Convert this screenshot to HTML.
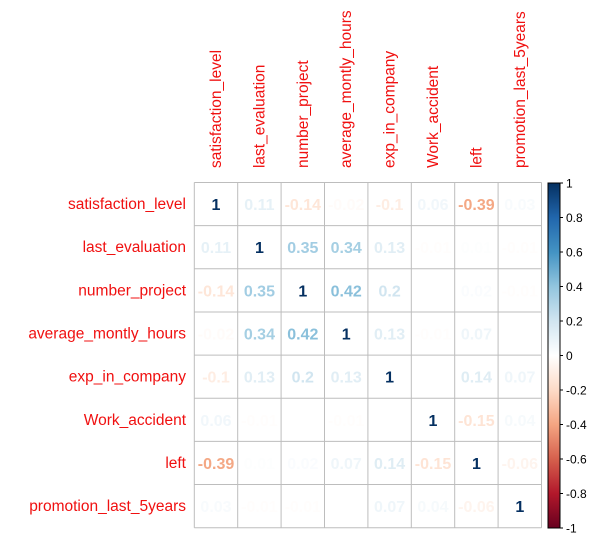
<!DOCTYPE html>
<html><head><meta charset="utf-8"><style>
html,body{margin:0;padding:0;background:#fff;}
svg{display:block;font-family:"Liberation Sans",Arial,sans-serif;}
</style></head><body>
<svg id="c" width="601" height="541"></svg>
<script>
const labels=["satisfaction_level","last_evaluation","number_project","average_montly_hours","exp_in_company","Work_accident","left","promotion_last_5years"];
const corr=[
[1,0.11,-0.14,-0.02,-0.1,0.06,-0.39,0.03],
[0.11,1,0.35,0.34,0.13,-0.01,0.01,-0.01],
[-0.14,0.35,1,0.42,0.2,0,0.02,-0.01],
[-0.02,0.34,0.42,1,0.13,-0.01,0.07,0],
[-0.1,0.13,0.2,0.13,1,0,0.14,0.07],
[0.06,-0.01,0,-0.01,0,1,-0.15,0.04],
[-0.39,0.01,0.02,0.07,0.14,-0.15,1,-0.06],
[0.03,-0.01,-0.01,0,0.07,0.04,-0.06,1]];
const legendTicks=[1,0.8,0.6,0.4,0.2,0,-0.2,-0.4,-0.6,-0.8,-1];
const stops=["#67001F","#B2182B","#D6604D","#F4A582","#FDDBC7","#FFFFFF","#D1E5F0","#92C5DE","#4393C3","#2166AC","#053061"];
function hx(h){return [1,3,5].map(i=>parseInt(h.substr(i,2),16));}
function col(v){let t=(v+1)/2*10;let i=Math.min(9,Math.floor(t));let f=t-i;let a=hx(stops[i]),b=hx(stops[i+1]);return "rgb("+a.map((x,k)=>Math.round(x+(b[k]-x)*f)).join(",")+")";}
const NS="http://www.w3.org/2000/svg",svg=document.getElementById("c");
function el(t,a,p){const e=document.createElementNS(NS,t);for(const k in a)e.setAttribute(k,a[k]);(p||svg).appendChild(e);return e;}
const x0=194.3,y0=182.5,cw=43.4,ch=43.15,n=labels.length;
const X=j=>x0+j*cw,Y=i=>y0+i*ch;
for(let k=0;k<=n;k++){
 let l=el("line",{x1:X(k),y1:Y(0),x2:X(k),y2:Y(n),stroke:"#bdbdbd","stroke-width":1});
 
 
 let m=el("line",{x1:X(0),y1:Y(k),x2:X(n),y2:Y(k),stroke:"#bdbdbd","stroke-width":1});
 
 
}
for(let i=0;i<n;i++){
 let t=el("text",{x:186,y:Y(i)+ch/2+5,"text-anchor":"end","font-size":15.5,fill:"#F01010"});
 t.textContent=labels[i];
 
 
 let cx=X(i)+cw/2+5;
 let u=el("text",{x:cx,y:168,"font-size":15.5,fill:"#F01010",transform:"rotate(-90 "+cx+" 168)"});
 u.textContent=labels[i];
 
 
 for(let j=0;j<n;j++){
  const v=corr[i][j];
  let s=el("text",{x:X(j)+cw/2,y:Y(i)+ch/2+6,"text-anchor":"middle","font-size":16,"font-weight":"bold",fill:col(v)});
  s.textContent=String(v);
  
  
 }
}
const lx=548,lw=12,ly0=183,ly1=528;
const defs=el("defs",{});
const g=el("linearGradient",{id:"lg",x1:0,y1:1,x2:0,y2:0},defs);
stops.forEach((c,i)=>el("stop",{offset:(i/10),"stop-color":c},g));
let r=el("rect",{x:lx,y:ly0,width:lw,height:ly1-ly0,fill:"url(#lg)",stroke:"#000","stroke-width":1});


legendTicks.forEach(v=>{
 const y=ly1-(v+1)/2*(ly1-ly0);
 el("line",{x1:lx+lw,y1:y,x2:lx+lw+3,y2:y,stroke:"#000"});
 let t=el("text",{x:566,y:y+4.5,"font-size":12,fill:"#000"});
 t.textContent=String(v);
 
 
});
</script>
</body></html>
